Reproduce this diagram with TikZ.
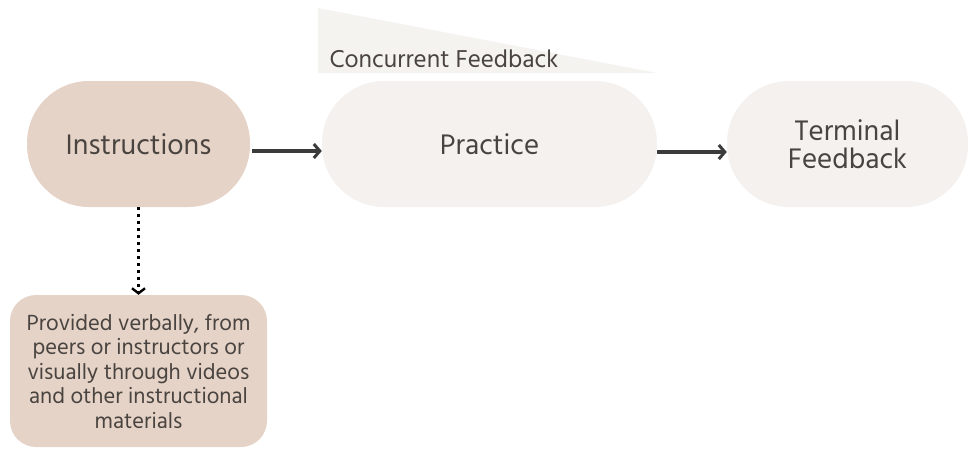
\documentclass[tikz,border=0pt]{standalone}
\usepackage{fontspec}
\newfontfamily\hindfont{Hind Madurai}
\usetikzlibrary{arrows.meta}
\definecolor{sand}{HTML}{E5D3C7}
\definecolor{shell}{HTML}{F5F1EE}
\definecolor{wedge}{HTML}{F5F3F0}
\definecolor{ink}{HTML}{4A4440}
\definecolor{arrowgray}{HTML}{3B3B3B}
\tikzset{
  pill/.style={rounded corners=62pt, minimum height=126pt, inner sep=0pt,
    align=center, text=ink, font=\hindfont\fontsize{29}{28}\selectfont},
  flowarrow/.style={draw=arrowgray, line width=3.2pt,
    -{Straight Barb[length=6pt,width=14pt,line width=3pt]}},
}
\begin{document}
\begin{tikzpicture}[x=1pt,y=-1pt]
\useasboundingbox (0,0) rectangle (969,448);
%%Wedge
\fill[wedge] (318,8) -- (657,73) -- (318,73) -- cycle;
\node[anchor=base west, text=ink, font=\hindfont\fontsize{25}{28}\selectfont]
  (concurrent) at (326,67) {Concurrent Feedback};
%%Stages
\node[pill, fill=sand, minimum width=223pt] (instructions) at (138.5,144) {Instructions};
\node[pill, fill=shell, minimum width=335pt] (practice) at (489.5,144) {Practice};
\node[pill, fill=shell, minimum width=241pt] (terminal) at (847.5,144)
  {Terminal\\Feedback};
%%Details
\node[fill=sand, rounded corners=26pt, minimum width=257pt, minimum height=152pt,
  inner sep=0pt, align=center, text=ink,
  font=\hindfont\fontsize{22.5}{24.5}\selectfont] (details) at (138.5,371)
  {Provided verbally, from\\peers or instructors or\\visually through videos\\and other instructional\\materials};
%%Arrows
\draw[flowarrow] (instructions.east) ++(2,7) coordinate (a1) -- (a1 -| practice.west);
\draw[flowarrow] (practice.east) ++(0,8) coordinate (a2) -- (a2 -| terminal.west);
\draw[line width=3pt, dash pattern=on 3pt off 4pt,
  -{Straight Barb[length=5pt,width=13pt,line width=2.4pt]}]
  (instructions.south) -- (details.north);
\end{tikzpicture}
\end{document}
